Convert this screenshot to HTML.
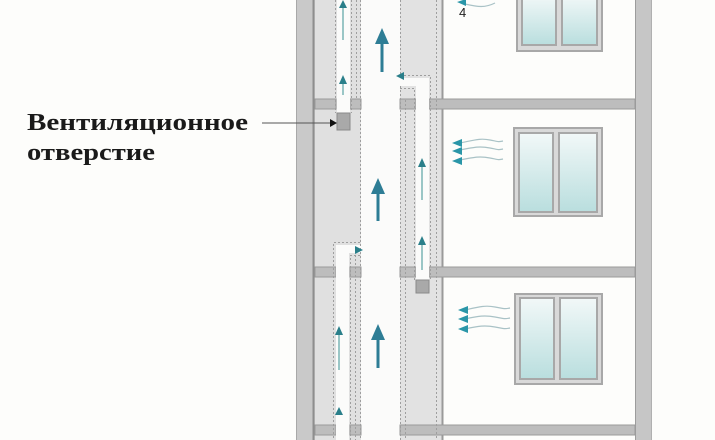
<!DOCTYPE html>
<html><head><meta charset="utf-8"><style>
html,body{margin:0;padding:0;background:#fdfdfb;}
svg{display:block}
</style></head><body>
<svg width="715" height="440" viewBox="0 0 715 440" xmlns="http://www.w3.org/2000/svg">
<defs>
<linearGradient id="g" x1="0" y1="0" x2="0" y2="1">
<stop offset="0" stop-color="#f2f8f8"/><stop offset="1" stop-color="#b9dede"/>
</linearGradient>
</defs>
<rect width="715" height="440" fill="#fdfdfb"/>
<!-- left wall -->
<rect x="296" y="0" width="19" height="440" fill="#c9c9c9"/>
<line x1="296.5" y1="0" x2="296.5" y2="440" stroke="#a8a8a8"/>
<line x1="313.5" y1="0" x2="313.5" y2="440" stroke="#8e8e8e" stroke-width="2"/>
<!-- columns -->
<rect x="315" y="0" width="46" height="440" fill="#e0e0e0"/>
<rect x="361" y="0" width="39" height="440" fill="#fbfbfa"/>
<rect x="400" y="0" width="42" height="440" fill="#e2e2e2"/>
<line x1="442.5" y1="0" x2="442.5" y2="440" stroke="#9a9a9a" stroke-width="2"/>
<!-- right wall -->
<rect x="635" y="0" width="17" height="440" fill="#c6c6c6"/>
<line x1="635.5" y1="0" x2="635.5" y2="440" stroke="#9c9c9c"/>
<line x1="651.5" y1="0" x2="651.5" y2="440" stroke="#b0b0b0"/>
<!-- slabs -->
<g fill="#bdbdbd" stroke="#9a9a9a">
<rect x="315" y="99" width="21" height="10"/><rect x="350" y="99" width="11" height="10"/>
<rect x="400" y="99" width="16" height="10"/><rect x="429" y="99" width="206" height="10"/>
<rect x="315" y="267" width="21" height="10"/><rect x="350" y="267" width="11" height="10"/>
<rect x="400" y="267" width="16" height="10"/><rect x="429" y="267" width="206" height="10"/>
<rect x="315" y="425" width="21" height="10"/><rect x="350" y="425" width="11" height="10"/>
<rect x="400" y="425" width="235" height="10"/>
</g>
<!-- ducts -->
<rect x="337" y="0" width="13" height="115" fill="#fbfbfa"/>
<rect x="337" y="113" width="13" height="17" fill="#a9a9a9" stroke="#8a8a8a"/>
<rect x="400" y="78" width="29" height="8" fill="#fbfbfa"/>
<rect x="416" y="78" width="13" height="202" fill="#fbfbfa"/>
<rect x="416" y="280" width="13" height="13" fill="#a9a9a9" stroke="#8a8a8a"/>
<rect x="336" y="245" width="25" height="8" fill="#fbfbfa"/>
<rect x="336" y="245" width="13" height="195" fill="#fbfbfa"/>
<g stroke="#9e9e9e" stroke-dasharray="2,2" fill="none">
<line x1="360.5" y1="0" x2="360.5" y2="440"/><line x1="400.5" y1="0" x2="400.5" y2="78"/><line x1="400.5" y1="86" x2="400.5" y2="440"/>
<line x1="335.5" y1="0" x2="335.5" y2="113"/><line x1="351.5" y1="0" x2="351.5" y2="113"/><line x1="356.5" y1="0" x2="356.5" y2="99"/>
<path d="M400,75.5 H430.5 V280"/><path d="M400,88.5 H414.5 V280"/><line x1="436.5" y1="0" x2="436.5" y2="440"/>
<path d="M360,242.5 H333.5 V440"/><path d="M360,255.5 H350.5 V440"/><line x1="355.5" y1="255" x2="355.5" y2="440"/>
<line x1="405.5" y1="100" x2="405.5" y2="440"/>
</g>
<!-- small arrows -->
<g stroke="#6aa" stroke-width="1.3" fill="#2a7f8a">
<line x1="343" y1="95" x2="343" y2="82"/><path d="M339,84 L343,75 L347,84z" stroke="none"/>
<line x1="343" y1="40" x2="343" y2="8"/><path d="M339,8 L343,0 L347,8z" stroke="none"/>
<line x1="422" y1="200" x2="422" y2="165"/><path d="M418,167 L422,158 L426,167z" stroke="none"/>
<line x1="422" y1="270" x2="422" y2="245"/><path d="M418,245 L422,236 L426,245z" stroke="none"/>
<path d="M404,80 L396,76 L404,72z" stroke="none"/>
<path d="M355,246 L363,250 L355,254z" stroke="none"/>
<line x1="339" y1="370" x2="339" y2="333"/><path d="M335,335 L339,326 L343,335z" stroke="none"/>
<path d="M335,415 L339,407 L343,415z" stroke="none"/>
</g>
<!-- big arrows -->
<g stroke="#2e7d95" stroke-width="3" fill="#2e7d95">
<line x1="382" y1="72" x2="382" y2="42"/><path d="M375,44 L382,28 L389,44z" stroke="none"/>
<line x1="378" y1="221" x2="378" y2="192"/><path d="M371,194 L378,178 L385,194z" stroke="none"/>
<line x1="378" y1="368" x2="378" y2="338"/><path d="M371,340 L378,324 L385,340z" stroke="none"/>
</g>
<!-- vent label -->
<text x="27" y="130" font-family="Liberation Serif, serif" font-weight="bold" font-size="24" fill="#1a1a1a" textLength="221" lengthAdjust="spacingAndGlyphs">Вентиляционное</text>
<text x="27" y="160" font-family="Liberation Serif, serif" font-weight="bold" font-size="24" fill="#1a1a1a" textLength="128" lengthAdjust="spacingAndGlyphs">отверстие</text>
<line x1="262" y1="123" x2="332" y2="123" stroke="#555"/>
<path d="M330,119 L337,123 L330,127z" fill="#111"/>
<!-- windows -->
<g stroke="#a8a8a8" stroke-width="2">
<rect x="517" y="-5" width="85" height="56" fill="#d9d9d9"/>
<rect x="522" y="-5" width="34" height="50" fill="url(#g)"/><rect x="562" y="-5" width="35" height="50" fill="url(#g)"/>
<rect x="514" y="128" width="88" height="88" fill="#d9d9d9"/>
<rect x="519" y="133" width="34" height="79" fill="url(#g)"/><rect x="559" y="133" width="38" height="79" fill="url(#g)"/>
<rect x="515" y="294" width="87" height="90" fill="#d9d9d9"/>
<rect x="520" y="298" width="34" height="81" fill="url(#g)"/><rect x="560" y="298" width="37" height="81" fill="url(#g)"/>
</g>
<!-- wave arrows -->
<g fill="none" stroke="#a9c2c6" stroke-width="1.2">
<path d="M460,143 C475,140 480,138 490,140 S498,142 503,141"/>
<path d="M460,150 C475,147 480,146 490,148 S498,150 503,149"/>
<path d="M460,160 C475,157 480,156 490,158 S498,160 503,159"/>
<path d="M465,310 C478,307 485,305 495,307 S505,309 510,308"/>
<path d="M465,319 C478,316 485,315 495,317 S505,319 510,318"/>
<path d="M465,329 C478,326 485,325 495,327 S505,329 510,328"/>
<path d="M465,4 C478,7 485,8 495,3"/>
</g>
<g fill="#2a96a8">
<path d="M452,143 L462,139 L462,147z"/><path d="M452,151 L462,147 L462,155z"/><path d="M452,161 L462,157 L462,165z"/>
<path d="M458,310 L468,306 L468,314z"/><path d="M458,319 L468,315 L468,323z"/><path d="M458,329 L468,325 L468,333z"/>
<path d="M457,2 L466,-1 L466,6z"/>
</g>
<text x="459" y="17" font-family="Liberation Sans, sans-serif" font-size="13" fill="#222">4</text>
</svg>
</body></html>
